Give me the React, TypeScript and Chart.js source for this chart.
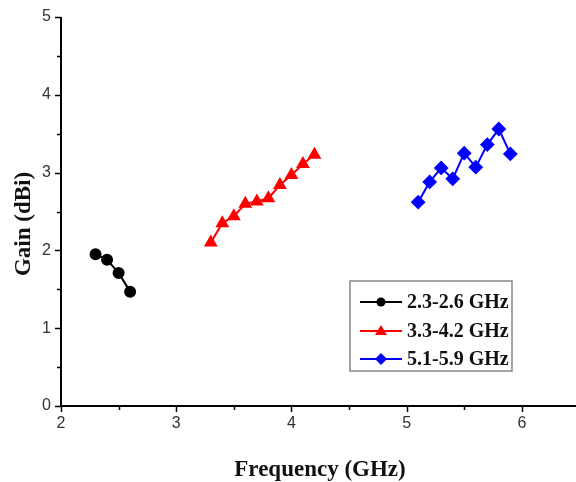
import React, { useEffect, useRef } from "react";
import { Chart, registerables } from "chart.js";

Chart.register(...registerables);

const seriesLabels = ["2.3-2.6 GHz", "3.3-4.2 GHz", "5.1-5.9 GHz"];
const freqA = [2.3, 2.4, 2.5, 2.6];
const gainA = [1.95, 1.88, 1.71, 1.47];
const freqB = [3.3, 3.4, 3.5, 3.6, 3.7, 3.8, 3.9, 4.0, 4.1, 4.2];
const gainB = [2.1, 2.35, 2.44, 2.6, 2.63, 2.67, 2.84, 2.97, 3.11, 3.23];
const freqC = [5.1, 5.2, 5.3, 5.4, 5.5, 5.6, 5.7, 5.8, 5.9];
const gainC = [2.62, 2.88, 3.06, 2.92, 3.25, 3.07, 3.36, 3.56, 3.24];
const xTickValues = [2, 3, 4, 5, 6];
const yTickValues = [0, 1, 2, 3, 4, 5];

const toPts = (xs: number[], ys: number[]) => xs.map((x, i) => ({ x, y: ys[i] }));

const overlay = {
  id: "overlay",
  afterDraw(chart: any) {
    const ctx = chart.ctx as CanvasRenderingContext2D;
    const xs = chart.scales.x;
    const ys = chart.scales.y;
    const area = chart.chartArea;
    ctx.save();
    // axes
    ctx.strokeStyle = "#000";
    ctx.lineWidth = 2;
    ctx.beginPath();
    ctx.moveTo(area.left, area.top);
    ctx.lineTo(area.left, area.bottom);
    ctx.lineTo(area.right, area.bottom);
    ctx.stroke();
    ctx.lineWidth = 1.5;
    for (let v = 2; v <= 6.01; v += 0.5) {
      const px = Math.round(xs.getPixelForValue(v)) + 0.5;
      const major = Math.abs(v - Math.round(v)) < 1e-6;
      ctx.beginPath();
      ctx.moveTo(px, area.bottom);
      ctx.lineTo(px, area.bottom + (major ? 6 : 4));
      ctx.stroke();
    }
    for (let v = 0; v <= 5.01; v += 0.5) {
      const py = Math.round(ys.getPixelForValue(v)) + 0.5;
      const major = Math.abs(v - Math.round(v)) < 1e-6;
      ctx.beginPath();
      ctx.moveTo(area.left, py);
      ctx.lineTo(area.left - (major ? 6 : 4), py);
      ctx.stroke();
    }
    // tick labels
    ctx.fillStyle = "#333";
    ctx.font = "16px 'Liberation Sans', Arial, sans-serif";
    ctx.textAlign = "center";
    ctx.textBaseline = "top";
    xTickValues.forEach((v) => {
      ctx.fillText(String(v), xs.getPixelForValue(v), area.bottom + 10);
    });
    ctx.textAlign = "right";
    ctx.textBaseline = "middle";
    yTickValues.forEach((v) => {
      ctx.fillText(String(v), area.left - 10, ys.getPixelForValue(v));
    });
    // axis titles
    ctx.fillStyle = "#111";
    ctx.font = "bold 23px 'Liberation Serif', 'Times New Roman', serif";
    ctx.textAlign = "center";
    ctx.textBaseline = "alphabetic";
    ctx.fillText("Frequency (GHz)", 320, 476);
    ctx.save();
    ctx.translate(30, 224);
    ctx.rotate(-Math.PI / 2);
    ctx.fillText("Gain (dBi)", 0, 0);
    ctx.restore();
    // legend
    const bx = 350, by = 281, bw = 162, bh = 90;
    ctx.fillStyle = "#fff";
    ctx.fillRect(bx, by, bw, bh);
    ctx.strokeStyle = "#888";
    ctx.lineWidth = 1.5;
    ctx.strokeRect(bx, by, bw, bh);
    const rows = [302, 331, 359];
    chart.data.datasets.forEach((ds: any, i: number) => {
      const y = rows[i];
      ctx.strokeStyle = ds.borderColor;
      ctx.fillStyle = ds.borderColor;
      ctx.lineWidth = 2;
      ctx.beginPath();
      ctx.moveTo(360, y);
      ctx.lineTo(402, y);
      ctx.stroke();
      const cx = 381;
      ctx.beginPath();
      if (ds.pointStyle === "circle") {
        ctx.arc(cx, y, 4.5, 0, Math.PI * 2);
      } else if (ds.pointStyle === "triangle") {
        ctx.moveTo(cx, y - 6);
        ctx.lineTo(cx + 6, y + 4);
        ctx.lineTo(cx - 6, y + 4);
        ctx.closePath();
      } else {
        ctx.moveTo(cx, y - 6);
        ctx.lineTo(cx + 6, y);
        ctx.lineTo(cx, y + 6);
        ctx.lineTo(cx - 6, y);
        ctx.closePath();
      }
      ctx.fill();
      ctx.fillStyle = "#111";
      ctx.font = "bold 20px 'Liberation Serif', 'Times New Roman', serif";
      ctx.textAlign = "left";
      ctx.textBaseline = "middle";
      ctx.fillText(ds.label, 407, y + 1);
    });
    ctx.restore();
  },
};

export default function App() {
  const ref = useRef<HTMLCanvasElement | null>(null);
  useEffect(() => {
    if (!ref.current) return;
    const chart = new Chart(ref.current, {
      type: "scatter",
      data: {
        datasets: [
          {
            label: seriesLabels[0],
            data: toPts(freqA, gainA),
            showLine: true,
            borderColor: "#000000",
            backgroundColor: "#000000",
            borderWidth: 2,
            pointStyle: "circle",
            pointRadius: 5,
          },
          {
            label: seriesLabels[1],
            data: toPts(freqB, gainB),
            showLine: true,
            borderColor: "#ff0000",
            backgroundColor: "#ff0000",
            borderWidth: 2,
            pointStyle: "triangle",
            pointRadius: 6,
          },
          {
            label: seriesLabels[2],
            data: toPts(freqC, gainC),
            showLine: true,
            borderColor: "#0000ff",
            backgroundColor: "#0000ff",
            borderWidth: 2,
            pointStyle: "rectRot",
            pointRadius: 6,
          },
        ],
      },
      options: {
        animation: false,
        responsive: false,
        maintainAspectRatio: false,
        layout: { autoPadding: false, padding: { top: 17, right: 0, left: 0, bottom: 0 } },
        plugins: { legend: { display: false }, tooltip: { enabled: false } },
        scales: {
          x: {
            type: "linear",
            min: 2,
            max: 6.47,
            grid: { display: false },
            border: { display: false },
            ticks: { display: false },
            afterFit: (s: any) => {
              s.height = 76;
            },
          },
          y: {
            type: "linear",
            min: 0,
            max: 5,
            grid: { display: false },
            border: { display: false },
            ticks: { display: false },
            afterFit: (s: any) => {
              s.width = 61;
            },
          },
        },
      },
      plugins: [overlay],
    });
    return () => chart.destroy();
  }, []);
  return (
    <div style={{ position: "absolute", left: 0, top: 0, width: 576, height: 482, background: "#fff" }}>
      <canvas ref={ref} width={576} height={482} style={{ width: 576, height: 482 }} />
    </div>
  );
}
